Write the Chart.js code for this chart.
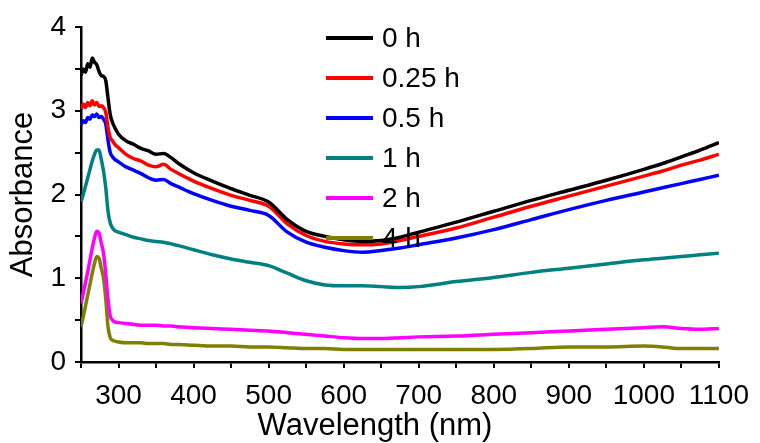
<!DOCTYPE html>
<html>
<head>
<meta charset="utf-8">
<script src="https://cdn.jsdelivr.net/npm/chart.js@4/dist/chart.umd.min.js"></script>
<style>
  html, body { margin: 0; padding: 0; background: #fff; }
  #wrap { width: 760px; height: 443px; }
</style>
</head>
<body>
<div id="wrap"><canvas id="uvChart" width="760" height="443"></canvas></div>
<script>
// UV-vis absorbance vs time

const wavelength = [250, 253, 256, 259, 262, 265, 268, 271, 274, 277, 280, 283, 286, 289, 292, 295, 300,
  310, 320, 330, 340, 350, 360, 370, 380, 400, 425, 450, 475, 500, 525, 550, 575, 600, 625, 650, 675, 700,
  750, 800, 850, 900, 950, 1000, 1025, 1050, 1075, 1100];

const abs0h = [3.42, 3.50, 3.46, 3.56, 3.52, 3.63, 3.58, 3.55, 3.47, 3.42, 3.41, 3.36, 3.15, 2.95, 2.86, 2.80, 2.72,
  2.64, 2.60, 2.55, 2.52, 2.48, 2.49, 2.44, 2.37, 2.26, 2.16, 2.07, 1.99, 1.91, 1.70, 1.56, 1.50, 1.46, 1.44, 1.45, 1.49, 1.55,
  1.67, 1.80, 1.93, 2.05, 2.17, 2.30, 2.37, 2.45, 2.53, 2.62];

const abs025h = [3.02, 3.08, 3.04, 3.10, 3.06, 3.12, 3.07, 3.10, 3.05, 3.06, 3.04, 2.98, 2.80, 2.68, 2.64, 2.60, 2.56,
  2.48, 2.43, 2.40, 2.35, 2.33, 2.36, 2.30, 2.25, 2.16, 2.07, 1.99, 1.93, 1.86, 1.65, 1.51, 1.44, 1.41, 1.40, 1.41, 1.45, 1.50,
  1.60, 1.73, 1.86, 1.98, 2.10, 2.22, 2.28, 2.35, 2.41, 2.48];

const abs05h = [2.83, 2.88, 2.86, 2.92, 2.90, 2.95, 2.93, 2.96, 2.92, 2.93, 2.90, 2.84, 2.65, 2.50, 2.45, 2.42, 2.39,
  2.33, 2.29, 2.25, 2.20, 2.17, 2.18, 2.13, 2.09, 2.01, 1.93, 1.86, 1.81, 1.75, 1.55, 1.43, 1.37, 1.33, 1.31, 1.33, 1.36, 1.40,
  1.48, 1.58, 1.70, 1.82, 1.93, 2.03, 2.08, 2.13, 2.18, 2.23];

const abs1h = [1.91, 2.00, 2.10, 2.20, 2.30, 2.40, 2.48, 2.53, 2.53, 2.42, 2.28, 2.08, 1.80, 1.66, 1.60, 1.57, 1.55,
  1.52, 1.49, 1.47, 1.45, 1.44, 1.43, 1.41, 1.39, 1.34, 1.28, 1.23, 1.19, 1.15, 1.06, 0.97, 0.92, 0.91, 0.91, 0.90, 0.89, 0.90,
  0.96, 1.01, 1.07, 1.12, 1.17, 1.22, 1.24, 1.26, 1.28, 1.30];

const abs2h = [0.70, 0.82, 0.95, 1.08, 1.22, 1.36, 1.48, 1.56, 1.54, 1.42, 1.30, 1.05, 0.75, 0.55, 0.50, 0.48, 0.47,
  0.46, 0.45, 0.44, 0.44, 0.44, 0.43, 0.43, 0.42, 0.41, 0.40, 0.39, 0.38, 0.37, 0.35, 0.33, 0.31, 0.29, 0.28, 0.28, 0.29, 0.30,
  0.31, 0.33, 0.35, 0.37, 0.39, 0.41, 0.42, 0.40, 0.39, 0.40];

const abs4h = [0.42, 0.54, 0.67, 0.80, 0.93, 1.06, 1.18, 1.26, 1.24, 1.12, 1.00, 0.75, 0.42, 0.29, 0.26, 0.25, 0.24,
  0.23, 0.23, 0.23, 0.22, 0.22, 0.22, 0.21, 0.21, 0.20, 0.19, 0.19, 0.18, 0.18, 0.17, 0.16, 0.16, 0.15, 0.15, 0.15, 0.15, 0.15,
  0.15, 0.15, 0.16, 0.18, 0.18, 0.19, 0.18, 0.16, 0.16, 0.16];

const seriesLabels = ['0 h', '0.25 h', '0.5 h', '1 h', '2 h', '4 h'];
const seriesColors = ['#000000', '#ff0000', '#0000ff', '#008080', '#ff00ff', '#808000'];
const seriesValues = [abs0h, abs025h, abs05h, abs1h, abs2h, abs4h];

const xTickLabels = [300, 400, 500, 600, 700, 800, 900, 1000, 1100];
const yTickLabels = [0, 1, 2, 3, 4];

const FONT = "'Liberation Sans', Arial, sans-serif";

// legend in the upper middle of the plot, drawn over the curves
const insideLegend = {
  id: 'insideLegend',
  afterDatasetsDraw(chart) {
    const ctx = chart.ctx;
    ctx.save();
    ctx.font = `28px ${FONT}`;
    ctx.textBaseline = 'middle';
    ctx.textAlign = 'left';
    chart.data.datasets.forEach((ds, i) => {
      const y = 38 + i * 40;
      ctx.strokeStyle = ds.borderColor;
      ctx.lineWidth = 4;
      ctx.beginPath();
      ctx.moveTo(326, y);
      ctx.lineTo(373, y);
      ctx.stroke();
      ctx.fillStyle = '#000';
      ctx.fillText(ds.label, 382, y + 1);
    });
    ctx.restore();
  }
};

// x title sits a bit left of centre in the original
const xTitle = {
  id: 'xTitle',
  afterDraw(chart) {
    const ctx = chart.ctx;
    ctx.save();
    ctx.font = `31px ${FONT}`;
    ctx.fillStyle = '#000';
    ctx.textAlign = 'center';
    ctx.textBaseline = 'middle';
    ctx.fillText('Wavelength (nm)', 375, 426);
    ctx.restore();
  }
};

new Chart(document.getElementById('uvChart').getContext('2d'), {
  type: 'line',
  data: {
    datasets: seriesValues.map((vals, i) => ({
      label: seriesLabels[i],
      data: wavelength.map((w, j) => ({ x: w, y: vals[j] })),
      borderColor: seriesColors[i],
      backgroundColor: seriesColors[i],
      borderWidth: 3.5,
      pointRadius: 0,
      cubicInterpolationMode: 'monotone',
      fill: false,
    }))
  },
  options: {
    responsive: false,
    animation: false,
    layout: { padding: { left: 0, top: 27, right: 39, bottom: 0 } },
    plugins: { legend: { display: false }, tooltip: { enabled: false } },
    scales: {
      x: {
        type: 'linear', min: 250, max: 1100,
        afterFit: s => { s.height = 81; },
        grid: { drawOnChartArea: false, drawTicks: true, tickLength: 6, color: '#000', lineWidth: 2 },
        border: { color: '#000', width: 2.5 },
        ticks: {
          stepSize: 50, autoSkip: false, maxRotation: 0, padding: 11,
          color: '#000', font: { family: FONT, size: 28 },
          callback: v => xTickLabels.includes(v) ? String(v) : ''
        },
        title: { display: false }
      },
      y: {
        min: 0, max: 4,
        afterFit: s => { s.width = 81; },
        grid: { drawOnChartArea: false, drawTicks: true, tickLength: 6, color: '#000', lineWidth: 2 },
        border: { color: '#000', width: 2.5 },
        ticks: {
          stepSize: 0.5, autoSkip: false, padding: 9,
          color: '#000', font: { family: FONT, size: 28 },
          callback: v => yTickLabels.includes(v) ? String(v) : ''
        },
        title: { display: true, text: 'Absorbance', color: '#000', font: { family: FONT, size: 31 }, padding: { top: 5, bottom: 0 } }
      }
    }
  },
  plugins: [insideLegend, xTitle]
});
</script>
</body>
</html>
